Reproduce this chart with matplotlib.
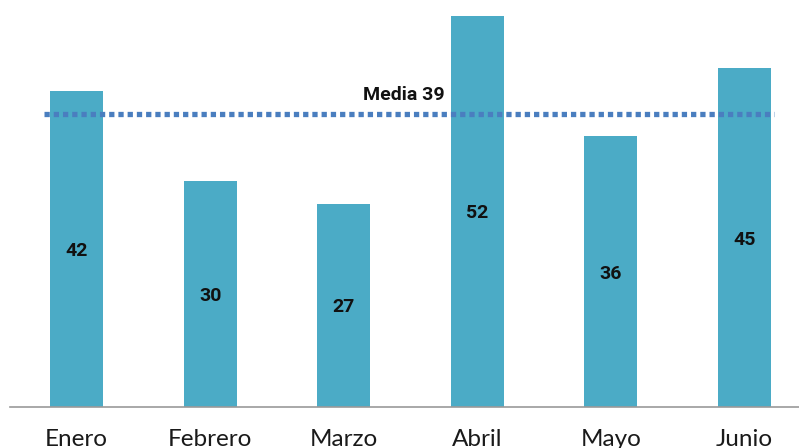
import matplotlib.pyplot as plt
import numpy as np

meses = ['Enero', 'Febrero', 'Marzo', 'Abril', 'Mayo', 'Junio']
valores = [42, 30, 27, 52, 36, 45]
media = 39
media_label = 'Media 39'

fig = plt.figure(figsize=(7.99, 4.48), dpi=100)
# axes spans from x=10px to the right edge, baseline 41px above the bottom
ax = fig.add_axes([10 / 799, 41 / 448, 789 / 799, 407 / 448])

x = np.arange(len(meses))
ax.bar(x, valores, width=0.397, color='#4babc6', zorder=2)

for xi, v in zip(x, valores):
    ax.text(xi, v / 2, str(v), ha='center', va='center_baseline', fontsize=14,
            fontweight='bold', family='Roboto', color='#111111', zorder=4)

ax.plot([-0.243, 5.221], [media, media], color='#4a7ebf', linewidth=3.8,
        linestyle=(0, (1, 0.75)), dash_capstyle='butt', zorder=3,
        transform=ax.transData)
ax.text(2.758, media + 1.8, media_label, ha='right', va='baseline', fontsize=14,
        fontweight='bold', family='Roboto', color='#111111')

ax.set_xlim(-0.498, 5.408)
ax.set_ylim(0, 54.1)
ax.set_xticks(x)
ax.set_xticklabels(meses, fontsize=17.5, family='Lato', color='#1a1a1a')
ax.tick_params(axis='x', length=0, pad=15.5)
ax.set_yticks([])
for s in ['top', 'left', 'right']:
    ax.spines[s].set_visible(False)
ax.spines['bottom'].set_color('#9a9a9a')
ax.spines['bottom'].set_linewidth(1.2)
ax.patch.set_alpha(0)

fig.savefig('out.png', dpi=100)
